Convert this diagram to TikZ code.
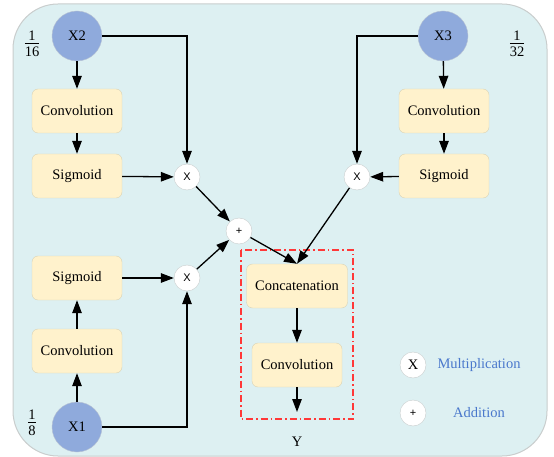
\documentclass[tikz,border=0pt]{standalone}
\usepackage{fontspec}
\setmainfont{Liberation Serif}
\newfontfamily\opsans{Liberation Sans}
\usetikzlibrary{arrows.meta}
\definecolor{panel}{HTML}{DDF0F2}
\definecolor{panelline}{HTML}{C9CDCD}
\definecolor{boxfill}{HTML}{FFF2CC}
\definecolor{boxline}{HTML}{D9D3B6}
\definecolor{infill}{HTML}{8FAADC}
\definecolor{inline}{HTML}{B9C3D3}
\definecolor{legblue}{HTML}{4A78CC}
\definecolor{dashred}{HTML}{FF3838}
\tikzset{
  opbox/.style={draw=boxline, fill=boxfill, rounded corners=6pt, minimum width=90pt, minimum height=44pt, font=\fontsize{14.5}{17}\selectfont, inner sep=0pt},
  inputnode/.style={circle, draw=inline, fill=infill, minimum size=50pt, inner sep=0pt, font=\fontsize{14.5}{17}\selectfont},
  opcircle/.style={circle, draw=panelline, fill=white, minimum size=26pt, inner sep=0pt, font=\opsans\fontsize{11}{13}\selectfont},
  flow/.style={draw=black, line width=1.3pt, -{Triangle[length=13pt,width=9.5pt]}},
  fraclabel/.style={font=\fontsize{14.5}{17}\selectfont, inner sep=0pt},
  legendtext/.style={text=legblue, font=\fontsize{14.5}{17}\selectfont}
}
\newcommand{\scalefrac}[2]{\begin{tabular}{@{}c@{}}#1\\[-3pt]\hline\rule{0pt}{13pt}#2\end{tabular}}
\begin{document}
\begin{tikzpicture}[x=1pt,y=-1pt]
\useasboundingbox (0,0) rectangle (554,457);
% outer panel
\draw[draw=panelline, fill=panel, line width=1pt, rounded corners=45pt] (13,4) rectangle (547,456);

% inputs
\node[inputnode] (x2) at (77,36) {X2};
\node[inputnode] (x3) at (443,36) {X3};
\node[inputnode] (x1) at (77,427) {X1};

% scale labels
\node[fraclabel] (f16) at (32,45) {\scalefrac{1}{16}};
\node[fraclabel] (f32) at (517,45) {\scalefrac{1}{32}};
\node[fraclabel] (f8) at (32,424) {\scalefrac{1}{8}};

% left-top branch
\node[opbox] (convA) at (77,111) {Convolution};
\node[opbox] (sigA) at (77,176) {Sigmoid};
% right-top branch
\node[opbox] (convB) at (444,111) {Convolution};
\node[opbox] (sigB) at (444,176) {Sigmoid};
% left-bottom branch
\node[opbox] (sigC) at (77,278) {Sigmoid};
\node[opbox] (convC) at (77,351) {Convolution};

% operators
\node[opcircle] (mA) at (187,177) {X};
\node[opcircle] (mB) at (357,177) {X};
\node[opcircle] (mC) at (187,278) {X};
\node[opcircle] (pl) at (239,231) {+};

% output head
\draw[dashred, line width=1.2pt, dash pattern=on 7pt off 3pt on 1.5pt off 3pt] (241,250) rectangle (353,419);
\node[opbox, minimum width=101pt] (cat) at (297,286) {Concatenation};
\node[opbox] (convD) at (297,365) {Convolution};
\coordinate (yend) at (297,412);
\node[font=\fontsize{14.5}{17}\selectfont] (ylab) at (297,442) {Y};

% legend
\node[opcircle, font=\fontsize{14.5}{17}\selectfont] (legM) at (413,365) {X};
\node[opcircle] (legA) at (413,413) {+};
\node[legendtext] (legMt) at (479,365) {Multiplication};
\node[legendtext] (legAt) at (479,413) {Addition};

% connectors
\draw[flow] (x2) -- (convA);
\draw[flow] (convA) -- (sigA);
\draw[flow] (sigA) -- (mA);
\draw[flow] (x2.east) -| (mA);

\draw[flow] (x3) -- (convB);
\draw[flow] (convB) -- (sigB);
\draw[flow] (sigB) -- (mB);
\draw[flow] (x3.west) -| (mB);

\draw[flow] (x1) -- (convC);
\draw[flow] (convC) -- (sigC);
\draw[flow] (sigC) -- (mC);
\draw[flow] (x1.east) -| (mC);

\draw[flow] (mA) -- (pl);
\draw[flow] (mC) -- (pl);
\draw[flow] (pl) -- (cat.north);
\draw[flow] (mB) -- (cat.north);
\draw[flow] (cat) -- (convD);
\draw[flow] (convD) -- (yend);
\end{tikzpicture}
\end{document}
